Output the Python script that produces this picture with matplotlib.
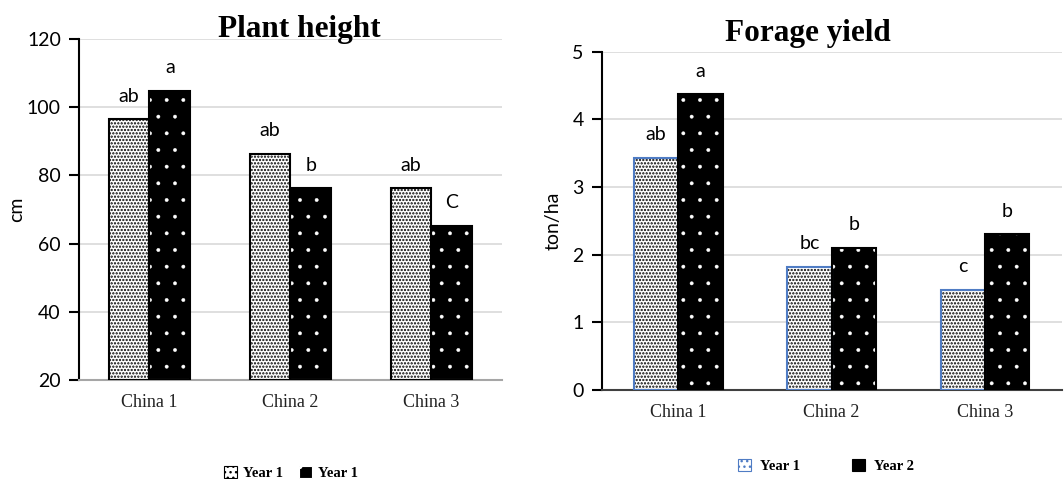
import numpy as np
import matplotlib
matplotlib.use("Agg")
import matplotlib.pyplot as plt
from matplotlib.patches import Patch

sites = ["China 1", "China 2", "China 3"]

height_y1 = [96.5, 86.4, 76.2]
height_y2 = [104.8, 76.2, 65.2]
height_letters_y1 = ["ab", "ab", "ab"]
height_letters_y2 = ["a", "b", "C"]

yield_y1 = [3.43, 1.82, 1.48]
yield_y2 = [4.37, 2.10, 2.30]
yield_letters_y1 = ["ab", "bc", "c"]
yield_letters_y2 = ["a", "b", "b"]

SERIF = "Liberation Serif"
SANS = "Lato"
GRID = "#d9d9d9"
W = 0.29
FINE = "....."


def dotted_bars(ax, x, vals, base, edge):
    # fine black dots on white
    with plt.rc_context({"hatch.linewidth": 1.1}):
        ax.bar(x, np.array(vals) - base, W, bottom=base, color="white",
               edgecolor="black", hatch=FINE, linewidth=0, zorder=2)
    ax.bar(x, np.array(vals) - base, W, bottom=base, fill=False,
           edgecolor=edge, linewidth=1.5, zorder=3)


def black_bars(ax, x, vals, base):
    # black with sparse white dots
    with plt.rc_context({"hatch.linewidth": 0.3}):
        ax.bar(x, np.array(vals) - base, W, bottom=base, color="black",
               edgecolor="white", hatch=".", linewidth=0, zorder=2)
    ax.bar(x, np.array(vals) - base, W, bottom=base, fill=False,
           edgecolor="black", linewidth=1.5, zorder=3)


def style_axes(ax, ylim, yticks, ylabel, bottom_color, labelpad):
    ax.set_xlim(-0.5, 2.5)
    ax.set_ylim(*ylim)
    ax.set_yticks(yticks)
    ax.yaxis.grid(True, color=GRID, linewidth=1.2, zorder=0)
    ax.set_axisbelow(True)
    for s in ["top", "right"]:
        ax.spines[s].set_visible(False)
    ax.spines["left"].set_linewidth(1.5)
    ax.spines["bottom"].set_color(bottom_color)
    ax.spines["bottom"].set_linewidth(1.5)
    ax.set_xticks(range(len(sites)))
    ax.set_xticklabels(sites, fontfamily=SERIF, fontsize=13, color="#222222")
    ax.tick_params(axis="x", length=0, pad=10)
    ax.tick_params(axis="y", length=7, width=1.5, direction="out",
                   labelsize=14, pad=6)
    for lab in ax.get_yticklabels():
        lab.set_fontfamily(SANS)
    ax.set_ylabel(ylabel, fontfamily=SANS, fontsize=14, labelpad=labelpad)


def letters(ax, x, vals, labels):
    for xi, v, t in zip(x, vals, labels):
        ax.annotate(t, (xi, v), xytext=(0, 16.5), textcoords="offset points",
                    ha="center", va="center", fontfamily=SANS, fontsize=14)


fig = plt.figure(figsize=(10.64, 4.79), dpi=100)
x = np.arange(len(sites))
leg_font = {"family": SERIF, "weight": "bold", "size": 10.5}

# Plant height
ax1 = fig.add_axes([0.0742, 0.2067, 0.3976, 0.7119])
dotted_bars(ax1, x - W / 2, height_y1, 20, "black")
black_bars(ax1, x + W / 2, height_y2, 20)
letters(ax1, x - W / 2, height_y1, height_letters_y1)
letters(ax1, x + W / 2, height_y2, height_letters_y2)
style_axes(ax1, (20, 120), range(20, 121, 20), "cm", "#a6a6a6", 1)
fig.text(299 / 1064, 1 - 30 / 479, "Plant height", ha="center", va="center",
         fontfamily=SERIF, fontweight="bold", fontsize=22.5)

with plt.rc_context({"hatch.linewidth": 1.0}):
    h1 = Patch(facecolor="white", edgecolor="black", hatch="...", linewidth=0.8)
with plt.rc_context({"hatch.linewidth": 0.5}):
    h2 = Patch(facecolor="black", edgecolor="white", hatch=".", linewidth=0.8)
fig.legend([h1, h2], ["Year 1", "Year 1"], loc="center",
           bbox_to_anchor=(291 / 1064, 1 - 473 / 479), ncol=2, frameon=False,
           prop=leg_font, handlelength=0.9, handleheight=0.9,
           handletextpad=0.4, columnspacing=1.1)

# Forage yield
ax2 = fig.add_axes([0.5655, 0.1858, 0.4323, 0.7063])
dotted_bars(ax2, x - W / 2, yield_y1, 0, "#4f7cc4")
black_bars(ax2, x + W / 2, yield_y2, 0)
letters(ax2, x - W / 2, yield_y1, yield_letters_y1)
letters(ax2, x + W / 2, yield_y2, yield_letters_y2)
style_axes(ax2, (0, 5), range(0, 6), "ton/ha", "#404040", 8)
fig.text(808 / 1064, 1 - 33 / 479, "Forage yield", ha="center", va="center",
         fontfamily=SERIF, fontweight="bold", fontsize=22.5)

with plt.rc_context({"hatch.linewidth": 1.0}):
    h3 = Patch(facecolor="white", edgecolor="#4f7cc4", hatch="...",
               linewidth=0.8)
h4 = Patch(facecolor="black", edgecolor="black", linewidth=0.8)
fig.legend([h3, h4], ["Year 1", "Year 2"], loc="center",
           bbox_to_anchor=(826 / 1064, 1 - 466 / 479), ncol=2, frameon=False,
           prop=leg_font, handlelength=0.9, handleheight=0.9,
           handletextpad=0.6, columnspacing=3.6)

fig.savefig("out.png", dpi=100)
